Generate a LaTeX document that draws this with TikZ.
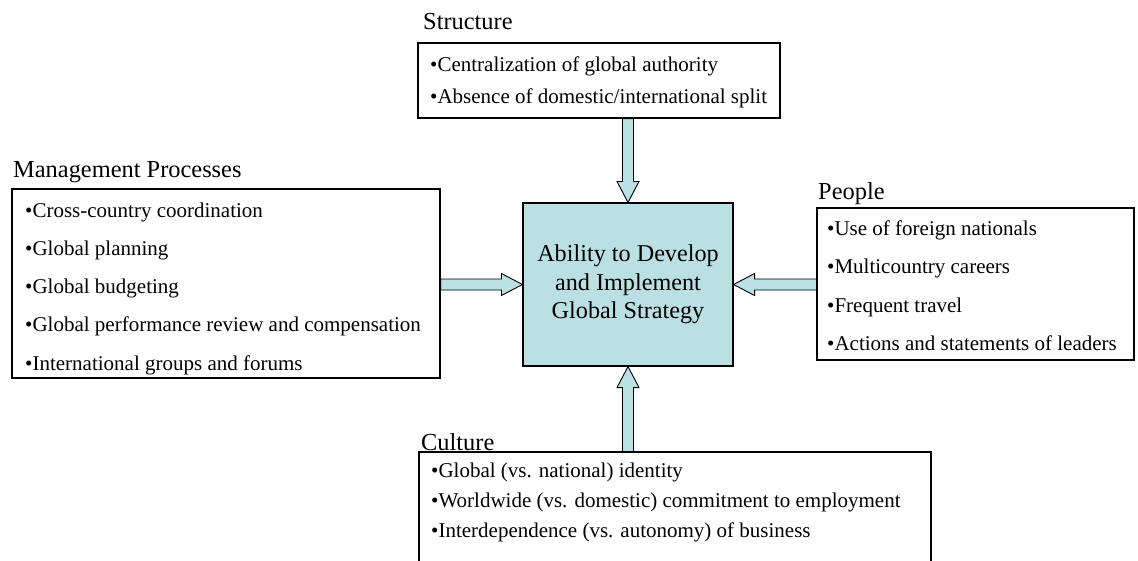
\documentclass[tikz,border=0pt]{standalone}
\usepackage{fontspec}
\setmainfont{Liberation Serif}
\usetikzlibrary{calc}
\definecolor{coreblue}{RGB}{187,224,227}
\begin{document}
\begin{tikzpicture}[x=1pt,y=-1pt,
  listbox/.style={draw=black, line width=1.1pt, fill=white, inner sep=0pt},
  corebox/.style={draw=black, line width=1.1pt, fill=coreblue, inner sep=0pt,
    align=center, font=\fontsize{24.2}{28.5}\selectfont},
  heading/.style={anchor=base west, inner sep=0pt, font=\fontsize{24.4}{29}\selectfont},
  item/.style={anchor=base west, inner sep=0pt, font=\fontsize{21}{25}\selectfont},
  barrow/.style={draw=black, line width=0.9pt, fill=coreblue, line join=miter}
]
\useasboundingbox (0,0) rectangle (1138,560);
\clip (0,0) rectangle (1138,560);

% central box
\node[corebox, minimum width=210pt, minimum height=163pt] (core) at (628,284.5)
  {Ability to Develop\\and Implement\\Global Strategy};

% surrounding boxes
\node[listbox, minimum width=362pt, minimum height=75pt]  (str) at (599,80.5) {};
\node[listbox, minimum width=428pt, minimum height=189pt] (mp)  at (226,283.5) {};
\node[listbox, minimum width=317pt, minimum height=152pt] (ppl) at (975.5,284) {};
\node[listbox, minimum width=512pt, minimum height=120pt] (cul) at (675,512) {};

% headings
\node[heading] (strT) at (423,29)  {Structure};
\node[heading] (mpT)  at (13,177)  {Management Processes};
\node[heading] (pplT) at (818,199) {People};
\node[heading] (culT) at (421,450) {Culture};

% Structure items
\node[item] (s1) at (430,71)  {•Centralization of global authority};
\node[item] (s2) at (430,103) {•Absence of domestic/international split};

% Management Processes items
\node[item] (m1) at (25,217)   {•Cross-country coordination};
\node[item] (m2) at (25,255.3) {•Global planning};
\node[item] (m3) at (25,293.6) {•Global budgeting};
\node[item] (m4) at (25,331.9) {•Global performance review and compensation};
\node[item] (m5) at (25,370.2) {•International groups and forums};

% People items
\node[item] (p1) at (827,235)   {•Use of foreign nationals};
\node[item] (p2) at (827,273.5) {•Multicountry careers};
\node[item] (p3) at (827,312)   {•Frequent travel};
\node[item] (p4) at (827,350)   {•Actions and statements of leaders};

% Culture items
\node[item] (c1) at (431,477) {•Global (vs. national) identity};
\node[item] (c2) at (431,507) {•Worldwide (vs. domestic) commitment to employment};
\node[item] (c3) at (431,537) {•Interdependence (vs. autonomy) of business};

% block arrows into the central box
\coordinate (tA) at (core.north |- str.south);
\draw[barrow] ($(tA)+(-5.5,0)$) -- ($(core.north)+(-5.5,-21)$) -- ($(core.north)+(-11,-21)$)
  -- (core.north) -- ($(core.north)+(11,-21)$) -- ($(core.north)+(5.5,-21)$)
  -- ($(tA)+(5.5,0)$) -- cycle;

\coordinate (bA) at (core.south |- cul.north);
\draw[barrow] ($(bA)+(-5.5,0)$) -- ($(core.south)+(-5.5,21)$) -- ($(core.south)+(-11,21)$)
  -- (core.south) -- ($(core.south)+(11,21)$) -- ($(core.south)+(5.5,21)$)
  -- ($(bA)+(5.5,0)$) -- cycle;

\coordinate (lA) at (mp.east |- core.west);
\draw[barrow] ($(lA)+(0,-5.5)$) -- ($(core.west)+(-21,-5.5)$) -- ($(core.west)+(-21,-11)$)
  -- (core.west) -- ($(core.west)+(-21,11)$) -- ($(core.west)+(-21,5.5)$)
  -- ($(lA)+(0,5.5)$) -- cycle;

\coordinate (rA) at (ppl.west |- core.east);
\draw[barrow] ($(rA)+(0,-5.5)$) -- ($(core.east)+(21,-5.5)$) -- ($(core.east)+(21,-11)$)
  -- (core.east) -- ($(core.east)+(21,11)$) -- ($(core.east)+(21,5.5)$)
  -- ($(rA)+(0,5.5)$) -- cycle;
\end{tikzpicture}
\end{document}
